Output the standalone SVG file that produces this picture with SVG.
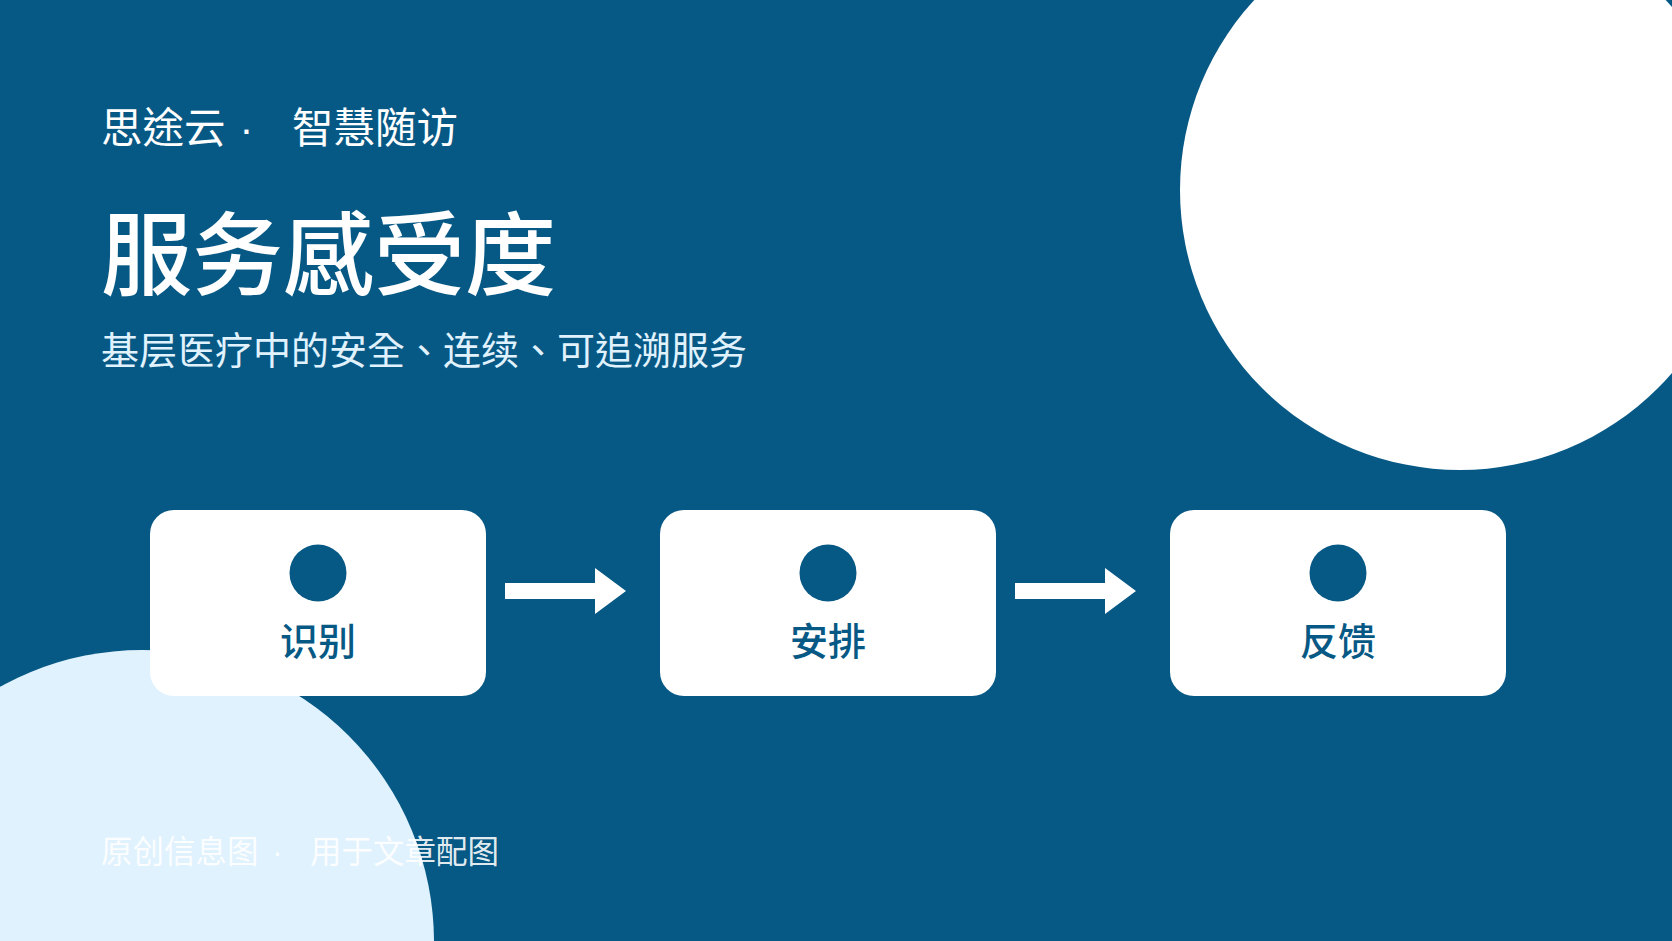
<svg xmlns="http://www.w3.org/2000/svg" width="1672" height="941" viewBox="0 0 1672 941">
<style>
.t{font-family:"Noto Sans CJK TC","Noto Sans CJK SC",sans-serif;}
.lat{font-family:"Liberation Sans",sans-serif;}
.box{fill:#ffffff;}
.dot{fill:#075985;}
.lbl{fill:#075985;font-size:38px;font-weight:500;text-anchor:middle;}
.arr{fill:#ffffff;}
</style>
<rect width="1672" height="941" fill="#075985"/>
<circle cx="1460" cy="190" r="280" fill="#ffffff"/>
<circle cx="142" cy="942" r="292" fill="#e0f2fe"/>
<text class="t" x="101" y="143" font-size="41.5" fill="#ffffff">思途云<tspan class="lat" x="239.5">·</tspan><tspan x="292">智慧随访</tspan></text>
<text class="t" x="101" y="288" font-size="91" font-weight="500" fill="#ffffff">服务感受度</text>
<text class="t" x="101" y="364" font-size="38" fill="#e0f2fe">基层医疗中的安全、连续、可追溯服务</text>
<g id="connectors">
<path class="arr" d="M505,583 H595 V568 L626,591 L595,614 V599 H505 Z"/>
<path class="arr" d="M1015,583 H1105 V568 L1136,591 L1105,614 V599 H1015 Z"/>
</g>
<g id="node-1">
<rect class="box" x="150" y="510" width="336" height="186" rx="24"/>
<circle class="dot" cx="318" cy="573" r="28.5"/>
<text class="t lbl" x="318" y="655">识别</text>
</g>
<g id="node-2">
<rect class="box" x="660" y="510" width="336" height="186" rx="24"/>
<circle class="dot" cx="828" cy="573" r="28.5"/>
<text class="t lbl" x="828" y="655">安排</text>
</g>
<g id="node-3">
<rect class="box" x="1170" y="510" width="336" height="186" rx="24"/>
<circle class="dot" cx="1338" cy="573" r="28.5"/>
<text class="t lbl" x="1338" y="655">反馈</text>
</g>
<text class="t" x="101" y="863" font-size="31.5" fill="#ffffff" fill-opacity="0.9">原创信息图<tspan class="lat" x="272">·</tspan><tspan x="310">用于文章配图</tspan></text>
</svg>
